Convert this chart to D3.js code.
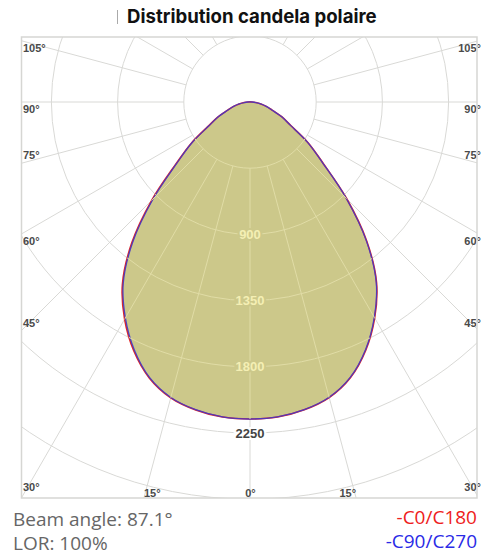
<!DOCTYPE html>
<html>
<head>
<meta charset="utf-8">
<script src="https://cdn.jsdelivr.net/npm/d3@7"></script>
<style>
  body { margin: 0; background: #fff; }
  svg { display: block; }
</style>
</head>
<body>
<svg id="chart" width="482" height="556"></svg>
<script>
// Photometric data (cd), gamma angle measured from nadir
const gammaAngles = [0, 5, 10, 15, 20, 25, 30, 35, 40, 45, 50, 55, 60, 65, 70, 75, 80, 85, 90];
const c0Values   = [2155, 2150, 2125, 2080, 1995, 1862, 1695, 1500, 1235, 930, 650, 480, 320, 240, 160, 115, 75, 40, 15];
const c180Values = [2155, 2150, 2126, 2082, 1998, 1868, 1705, 1512, 1250, 945, 660, 485, 325, 242, 162, 116, 75, 40, 15];
const c90Values  = [2155, 2149, 2124, 2078, 1992, 1858, 1690, 1496, 1230, 925, 646, 478, 318, 238, 158, 114, 74, 40, 15];
const c270Values = [2155, 2149, 2124, 2079, 1994, 1860, 1694, 1502, 1238, 932, 652, 480, 320, 240, 160, 115, 75, 40, 15];

// Grid
const ringValues = [450, 900, 1350, 1800, 2250, 2700, 3150, 3600, 4050, 4500];
const ringLabels = [900, 1350, 1800, 2250];
const spokeAngles = d3.range(-180, 181, 15);
const sideLabels = [105, 90, 75, 60, 45, 30];
const bottomLabels = [-15, 0, 15];

const beamAngle = "87.1°";
const lor = "100%";
const legendItems = ["-C0/C180", "-C90/C270"];

const svg = d3.select("#chart");
const box = { x0: 21.5, y0: 37, x1: 477, y1: 498 };
const cx = 250, cy = 102;

const rScale = d3.scaleLinear().domain([0, 450]).range([0, 66.2]);

// Title
svg.append("line")
  .attr("x1", 117.5).attr("x2", 117.5)
  .attr("y1", 10).attr("y2", 24)
  .attr("stroke", "#aaa").attr("stroke-width", 1);
svg.append("text")
  .attr("x", 127).attr("y", 23)
  .attr("font-family", "Inter, 'Liberation Sans', sans-serif")
  .attr("font-weight", 700)
  .attr("font-size", 18.6)
  .attr("letter-spacing", 0)
  .attr("fill", "#111")
  .text("Distribution candela polaire");

// Clip to plot box
const defs = svg.append("defs");
defs.append("clipPath").attr("id", "boxClip")
  .append("rect")
  .attr("x", box.x0).attr("y", box.y0)
  .attr("width", box.x1 - box.x0).attr("height", box.y1 - box.y0);

// helpers: gamma (deg from nadir), side +1 right / -1 left -> lineRadial angle
function radialAngle(gamma, side) {
  return Math.PI - side * gamma * Math.PI / 180;
}

function curvePoints(leftVals, rightVals) {
  const pts = [];
  for (let i = gammaAngles.length - 1; i >= 0; i--) {
    pts.push([radialAngle(gammaAngles[i], -1), rScale(leftVals[i])]);
  }
  for (let i = 1; i < gammaAngles.length; i++) {
    pts.push([radialAngle(gammaAngles[i], 1), rScale(rightVals[i])]);
  }
  return pts;
}

const line = d3.lineRadial()
  .angle((d) => d[0])
  .radius((d) => d[1])
  .curve(d3.curveCatmullRomClosed.alpha(0.5));

const ptsA = curvePoints(c180Values, c0Values);
const ptsB = curvePoints(c270Values, c90Values);

const plot = svg.append("g").attr("clip-path", "url(#boxClip)");

function drawGrid(g, color) {
  g.selectAll("circle.ring")
    .data(ringValues)
    .enter()
    .append("circle")
    .attr("class", "ring")
    .attr("cx", cx).attr("cy", cy)
    .attr("r", (d) => rScale(d))
    .attr("fill", "none")
    .attr("stroke", color)
    .attr("stroke-width", 1);

  g.selectAll("line.spoke")
    .data(spokeAngles)
    .enter()
    .append("line")
    .attr("class", "spoke")
    .attr("x1", (d) => cx + rScale(450) * Math.sin(d * Math.PI / 180))
    .attr("y1", (d) => cy + rScale(450) * Math.cos(d * Math.PI / 180))
    .attr("x2", (d) => cx + rScale(5000) * Math.sin(d * Math.PI / 180))
    .attr("y2", (d) => cy + rScale(5000) * Math.cos(d * Math.PI / 180))
    .attr("stroke", color)
    .attr("stroke-width", 1);
}

// background grid
drawGrid(plot.append("g"), "#d9d9d6");

// filled distribution
const curveG = plot.append("g").attr("transform", `translate(${cx},${cy})`);
curveG.append("path")
  .attr("d", line(ptsA))
  .attr("fill", "#ccc88a")
  .attr("stroke", "none");

// grid seen through fill
defs.append("clipPath").attr("id", "fillClip")
  .append("path")
  .attr("transform", `translate(${cx},${cy})`)
  .attr("d", line(ptsA));
drawGrid(plot.append("g").attr("clip-path", "url(#fillClip)"), "#e0dca6");

// outlines
curveG.append("path")
  .attr("d", line(ptsA))
  .attr("fill", "none")
  .attr("stroke", "#e02828")
  .attr("stroke-width", 1.6);
curveG.append("path")
  .attr("d", line(ptsB))
  .attr("fill", "none")
  .attr("stroke", "#3838d0")
  .attr("stroke-width", 1.3)
  .attr("stroke-opacity", 0.85);

// ring value labels
plot.selectAll("text.ringLabel")
  .data(ringLabels)
  .enter()
  .append("text")
  .attr("class", "ringLabel")
  .attr("x", cx)
  .attr("y", (d) => cy + rScale(d))
  .attr("dy", "0.35em")
  .attr("text-anchor", "middle")
  .attr("font-family", "'Liberation Sans', Arial, sans-serif")
  .attr("font-weight", 700)
  .attr("font-size", 13)
  .attr("fill", (d) => (d < 2155 ? "#f4efb4" : "#444"))
  .attr("stroke", (d) => (d < 2155 ? "#ccc88a" : "#fff"))
  .attr("stroke-width", 4)
  .attr("paint-order", "stroke")
  .text((d) => d);

// angle labels on both sides
const labelFont = {
  family: "'Liberation Sans', Arial, sans-serif",
  size: 11
};
function sideY(a) {
  const t = a * Math.PI / 180;
  const y = cy + (cx - box.x0) * Math.cos(t) / Math.sin(t);
  return Math.min(y, box.y1);
}
// label sits just below the spoke, except where it would clash
const sideShift = { 105: 7, 90: 7, 75: -8, 60: 7, 45: -7, 30: -11 };

[-1, 1].forEach((side) => {
  svg.selectAll(null)
    .data(sideLabels)
    .enter()
    .append("text")
    .attr("x", side < 0 ? box.x0 + 1.5 : 481)
    .attr("y", (d) => sideY(d) + sideShift[d])
    .attr("dy", "0.35em")
    .attr("text-anchor", side < 0 ? "start" : "end")
    .attr("font-family", labelFont.family)
    .attr("font-weight", 700)
    .attr("font-size", labelFont.size)
    .attr("fill", "#4a4a4a")
    .text((d) => d + "°");
});

svg.selectAll("text.bottomLabel")
  .data(bottomLabels)
  .enter()
  .append("text")
  .attr("class", "bottomLabel")
  .attr("x", (d) => cx + (box.y1 - cy) * Math.tan(d * Math.PI / 180) + (d === 0 ? 0.5 : 0))
  .attr("y", box.y1 - 5)
  .attr("dy", "0.35em")
  .attr("text-anchor", (d) => (d < 0 ? "start" : d > 0 ? "end" : "middle"))
  .attr("font-family", labelFont.family)
  .attr("font-weight", 700)
  .attr("font-size", labelFont.size)
  .attr("fill", "#4a4a4a")
  .text((d) => Math.abs(d) + "°");

// plot border
svg.append("rect")
  .attr("x", box.x0).attr("y", box.y0)
  .attr("width", box.x1 - box.x0).attr("height", box.y1 - box.y0)
  .attr("fill", "none")
  .attr("stroke", "#d6d6d3")
  .attr("stroke-width", 1.5);

// footer
const footFont = "'Open Sans', 'Noto Sans', sans-serif";
svg.append("text")
  .attr("x", 13).attr("y", 526)
  .attr("font-family", footFont).attr("font-size", 19)
  .attr("fill", "#666")
  .text("Beam angle: " + beamAngle);
svg.append("text")
  .attr("x", 13).attr("y", 550)
  .attr("font-family", footFont).attr("font-size", 19)
  .attr("fill", "#666")
  .text("LOR: " + lor);

const legendColors = ["#ee2020", "#2a2ae6"];
svg.selectAll("text.legend")
  .data(legendItems)
  .enter()
  .append("text")
  .attr("class", "legend")
  .attr("x", 477)
  .attr("y", (d, i) => 524 + i * 24)
  .attr("text-anchor", "end")
  .attr("font-family", footFont)
  .attr("font-size", 19)
  .attr("fill", (d, i) => legendColors[i])
  .text((d) => d);
</script>
</body>
</html>
